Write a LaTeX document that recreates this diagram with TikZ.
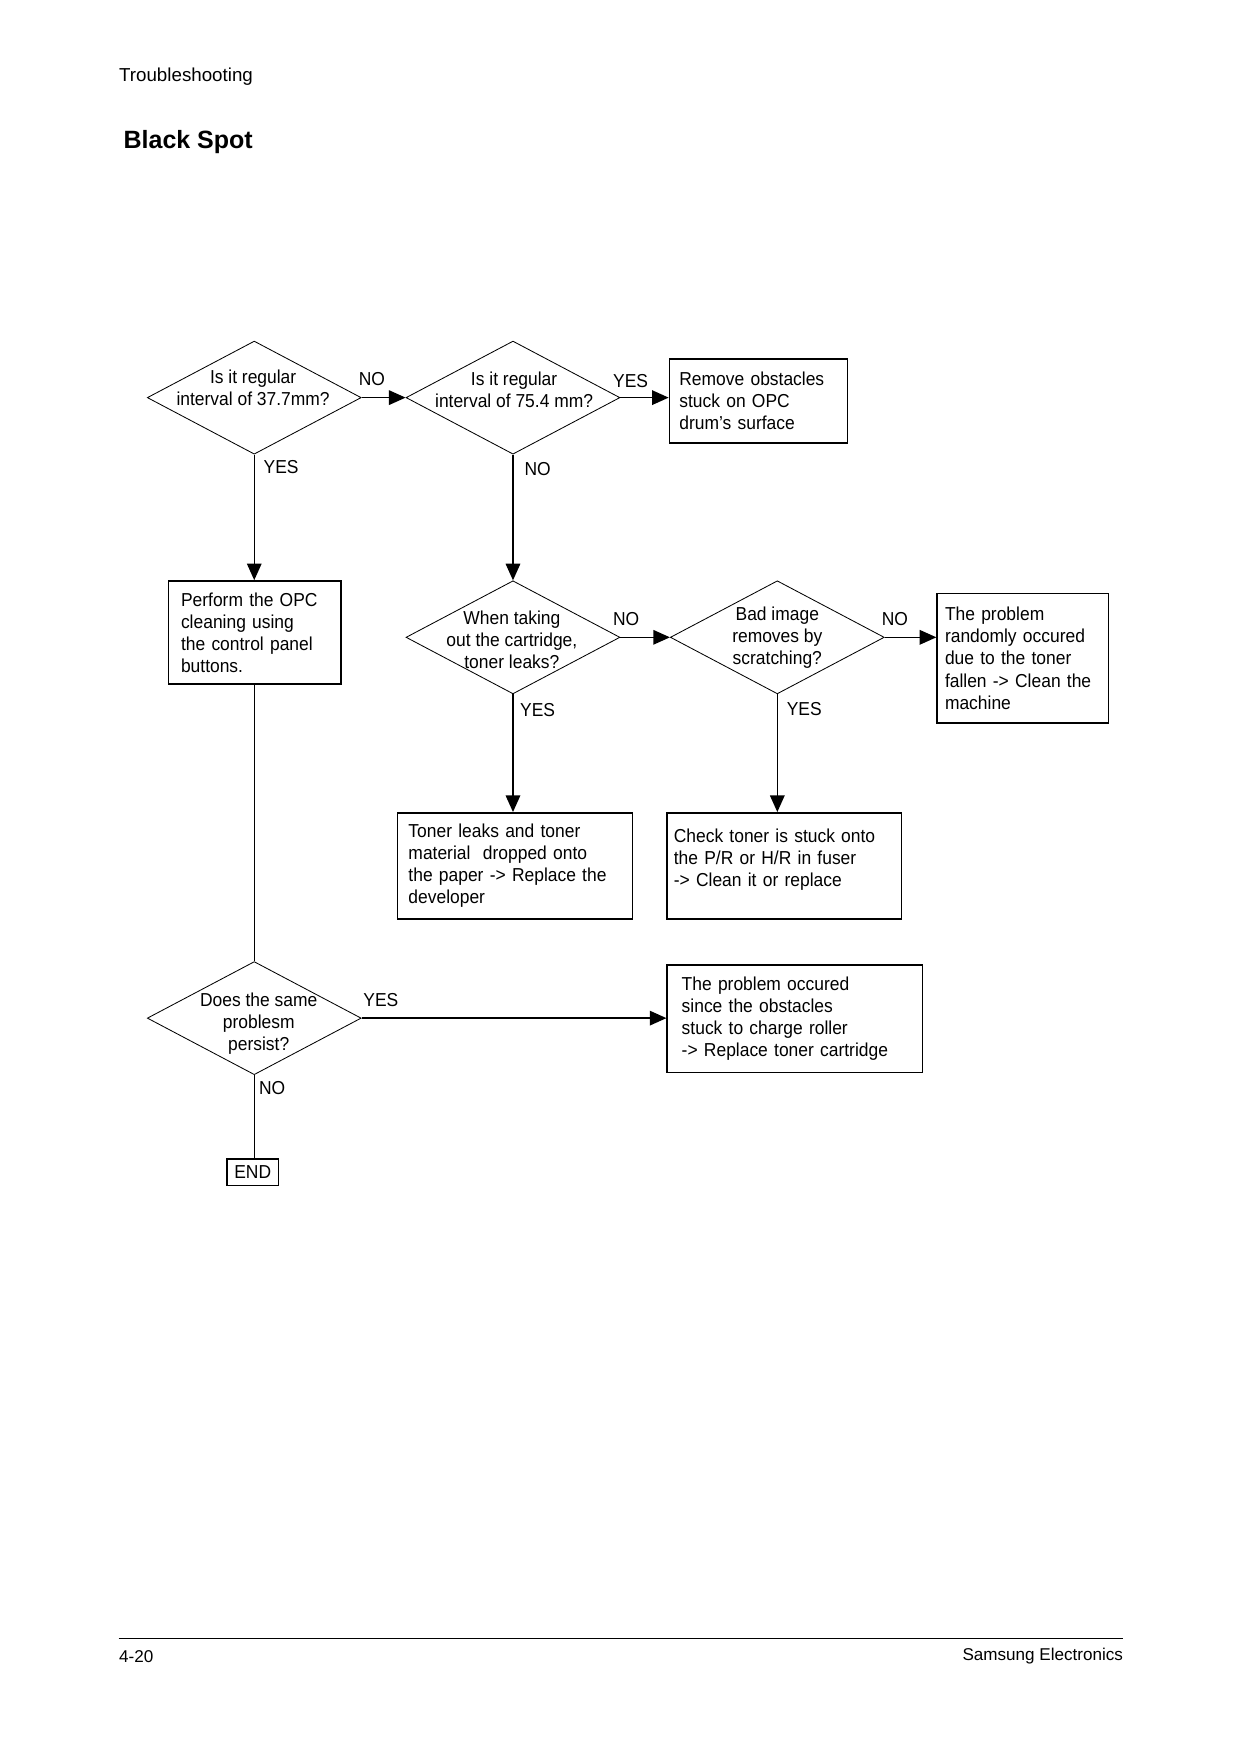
\documentclass[tikz,border=0pt]{standalone}
\usepackage{fontspec}
\setmainfont{Liberation Sans}
\newfontfamily\chartfont{Liberation Sans}[FakeStretch=0.93]
\usetikzlibrary{arrows.meta,shapes.geometric}

\begin{document}
\begin{tikzpicture}[x=0.5377pt, y=-0.5377pt,
    ask/.style={draw, diamond, line width=0.4pt, minimum width=102.7pt, minimum height=54.3pt, inner sep=0pt},
    asktext/.style={align=center, inner sep=0pt, font=\chartfont\fontsize{9}{10.6}\selectfont},
    outcome/.style={draw, line width=0.7pt, anchor=north west, align=left, inner ysep=0pt, font=\chartfont\fontsize{9}{10.6}\selectfont},
    tag/.style={inner sep=0pt, font=\chartfont\fontsize{9}{10.6}\selectfont},
    flow/.style={line width=0.7pt, -{Triangle[length=8pt,width=7pt]}}]
      \useasboundingbox (0,0) rectangle (1107,1566);
      \node[anchor=west, inner sep=0pt, font=\fontsize{9}{11}\selectfont] (head) at (106,68) {Troubleshooting};
      \node[anchor=west, inner sep=0pt, font=\bfseries\fontsize{12}{14}\selectfont] (title) at (110,127) {Black Spot};
      \node[ask] (q1) at (227,355) {};
      \node[asktext] (q1t) at (226,346) {Is it regular\\interval of 37.7mm?};
      \node[ask] (q2) at (458,355) {};
      \node[asktext] (q2t) at (459,348) {Is it regular\\interval of 75.4 mm?};
      \node[ask] (q3) at (458,569) {};
      \node[asktext] (q3t) at (457,571) {When taking\\out the cartridge,\\toner leaks?};
      \node[ask] (q4) at (694,569) {};
      \node[asktext] (q4t) at (694,569) {Bad image\\removes by\\scratching?};
      \node[ask] (q5) at (227,909) {};
      \node[asktext] (q5t) at (231,914) {Does the same\\problesm\\persist?};
      \node[outcome, minimum width=85.5pt, minimum height=40.3pt, text width=75.9pt, inner xsep=4.8pt] (r1) at (597,320) {Remove obstacles\\stuck on OPC\\drum’s surface};
      \node[outcome, minimum width=82.8pt, minimum height=49.5pt, text width=71pt, inner xsep=5.9pt] (p1) at (150,518) {Perform the OPC\\cleaning using\\the control panel\\buttons.};
      \node[outcome, minimum width=82.3pt, minimum height=62.4pt, text width=74.7pt, inner xsep=3.8pt] (r2) at (836,529) {The problem\\randomly occured\\due to the toner\\fallen -> Clean the\\machine};
      \node[outcome, minimum width=112.9pt, minimum height=51.1pt, text width=102.1pt, inner xsep=5.4pt] (b1) at (354,725) {Toner leaks and toner\\material\ \ dropped onto\\the paper -> Replace the\\developer};
      \node[outcome, minimum width=112.4pt, minimum height=51.1pt, text width=106pt, inner xsep=3.2pt] (b2) at (595,725) {Check toner is stuck onto\\the P/R or H/R in fuser\\-> Clean it or replace\\[-3pt]\mbox{}};
      \node[outcome, minimum width=122.6pt, minimum height=51.6pt, text width=108.6pt, inner xsep=7pt] (r3) at (595,861) {The problem occured\\since the obstacles\\stuck to charge roller\\-> Replace toner cartridge};
      \node[draw, line width=0.7pt, anchor=north west, minimum width=24.7pt, minimum height=12.9pt, inner sep=0pt, font=\chartfont\fontsize{9}{10.6}\selectfont] (end) at (202,1034) {END};
      \draw[flow] (q1.east) -- (q2.west);
      \draw[flow] (q2.east) -- (q2.east -| r1.west);
      \draw[flow] (q1.south) -- (q1.south |- p1.north);
      \draw[flow] (q2.south) -- (q3.north);
      \draw[flow] (q3.east) -- (q4.west);
      \draw[flow] (q4.east) -- (q4.east -| r2.west);
      \draw[flow] (q3.south) -- (q3.south |- b1.north);
      \draw[flow] (q4.south) -- (q4.south |- b2.north);
      \draw[line width=0.7pt] (q5.north |- p1.south) -- (q5.north);
      \draw[flow] (q5.east) -- (q5.east -| r3.west);
      \draw[line width=0.7pt] (q5.south) -- (q5.south |- end.north);
      \node[tag] (no1) at (332,338) {NO};
      \node[tag] (yes1) at (563,340) {YES};
      \node[tag] (yes2) at (251,417) {YES};
      \node[tag] (no2) at (480,419) {NO};
      \node[tag] (no3) at (559,553) {NO};
      \node[tag] (no4) at (799,553) {NO};
      \node[tag] (yes3) at (480,634) {YES};
      \node[tag] (yes4) at (718,633) {YES};
      \node[tag] (yes5) at (340,893) {YES};
      \node[tag] (no5) at (243,971) {NO};
      \draw[line width=0.8pt] (106,1463) -- (1003,1463);
      \node[anchor=west, inner sep=0pt, font=\fontsize{8.2}{10}\selectfont] (page) at (106,1479) {4-20};
      \node[anchor=east, inner sep=0pt, font=\fontsize{8.2}{10}\selectfont] (maker) at (1003,1479) {Samsung Electronics};
    \end{tikzpicture}
\end{document}
